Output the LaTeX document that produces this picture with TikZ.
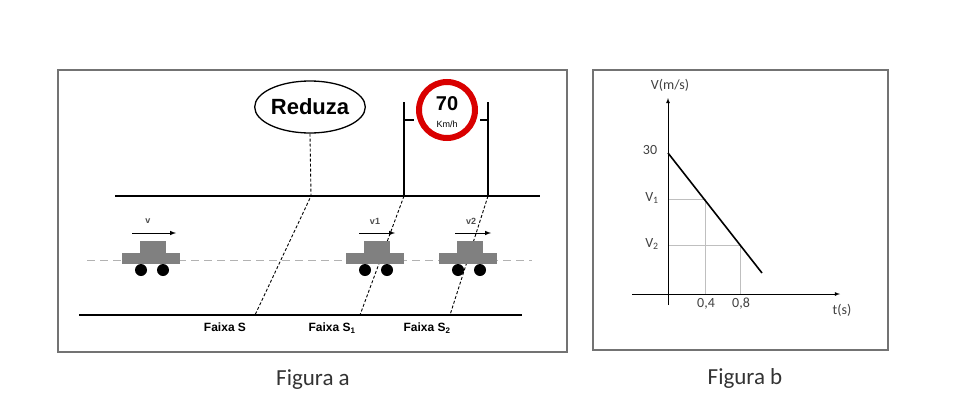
\documentclass[tikz,border=0pt]{standalone}
\usepackage{fontspec}
\usetikzlibrary{shapes.geometric}
\setmainfont{Carlito}
\newfontfamily\arialf{Liberation Sans}
\begin{document}
\begin{tikzpicture}[x=1pt,y=-1pt,
  frame/.style={draw=black!55,line width=1.2pt},
  road/.style={line width=1.6pt},
  dsh/.style={line width=0.9pt,dash pattern=on 3pt off 2pt},
  car/.style={fill=black!50,draw=none},
  lbl/.style={font=\arialf\bfseries\fontsize{12}{13}\selectfont},
  grid/.style={draw=black!25,line width=0.6pt},
  gtxt/.style={font=\fontsize{14}{16}\selectfont,text=black!75}]
\useasboundingbox (0,0) rectangle (961,407);
\draw[frame] (58,70) rectangle (567,352);
\draw[frame] (593,70) rectangle (888,350);
% road
\draw[road] (115,196) -- (540,196);
\draw[road] (79,315) -- (522,315);
\draw[black!30,line width=1pt,dash pattern=on 8pt off 5pt] (87,260) -- (532,260);
% Reduza
\node[draw,line width=1.3pt,ellipse,minimum width=108pt,minimum height=52pt,inner sep=0pt,font=\arialf\bfseries\fontsize{22}{24}\selectfont] (red) at (310,107) {Reduza};
\coordinate (r1) at (311,196);
\coordinate (r2) at (255,315);
\draw[dsh] (red.south) -- (r1) -- (r2);
% sign
\node[circle,draw=red!85!black,line width=6pt,fill=white,minimum size=56pt,inner sep=0pt] (sign) at (447,110) {};
\node[font=\arialf\bfseries\fontsize{20}{21}\selectfont] at (447,104) {70};
\node[font=\arialf\fontsize{9}{10}\selectfont] at (447,124) {Km/h};
\coordinate (p1t) at (404,102); \coordinate (p1b) at (404,196);
\coordinate (p2t) at (488,102); \coordinate (p2b) at (488,196);
\draw[line width=1.3pt] (p1t) -- (p1b) (p2t) -- (p2b);
\draw[line width=2.5pt] (404,120) -- (414,120) (480,120) -- (488,120);
\coordinate (s1) at (360,315); \coordinate (s2) at (450,315);
\draw[dsh] (p1b) -- (s1);
\draw[dsh] (p2b) -- (s2);
% cars
\foreach \x/\lab/\al/\ar/\n in {122/v/132/176/c0,346/v1/359/395/c1,439/v2/455/491/c2}{
  \fill[car] (\x,253) rectangle ++(58,11);
  \fill[car] (\x+18,241) rectangle ++(26,12);
  \fill (\x+19,270) circle (6pt);
  \fill (\x+41,270) circle (6pt);
  \draw[-latex,line width=1pt] (\al,233) -- (\ar,233);
  \node[font=\arialf\bfseries\fontsize{9}{10}\selectfont,text=black!70] at (\al+16,221) {\lab};
}
\node[lbl] at (225,327) {Faixa S};
\node[lbl] at (332,328) {Faixa S\textsubscript{1}};
\node[lbl] at (427,328) {Faixa S\textsubscript{2}};
\node[font=\fontsize{23}{25}\selectfont,text=black!80] at (313,380) {Figura a};
\node[font=\fontsize{23}{25}\selectfont,text=black!80] at (745,378) {Figura b};
% graph
\coordinate (o) at (668,294);
\draw[grid] (668,199) -- (705,199) -- (705,294);
\draw[grid] (668,245) -- (740,245) -- (740,294);
\draw[-latex,line width=0.8pt] (668,305) -- (668,98);
\draw[-latex,line width=0.8pt] (632,294) -- (840,294);
\draw[line width=1.6pt] (668,153) -- (762,273);
\node[gtxt] at (670,85) {V(m/s)};
\node[gtxt] at (650,150) {30};
\node[gtxt] at (652,198) {V\textsubscript{1}};
\node[gtxt] at (652,244) {V\textsubscript{2}};
\node[gtxt] at (706,304) {0,4};
\node[gtxt] at (741,304) {0,8};
\node[gtxt] at (842,310) {t(s)};
\end{tikzpicture}
\end{document}
